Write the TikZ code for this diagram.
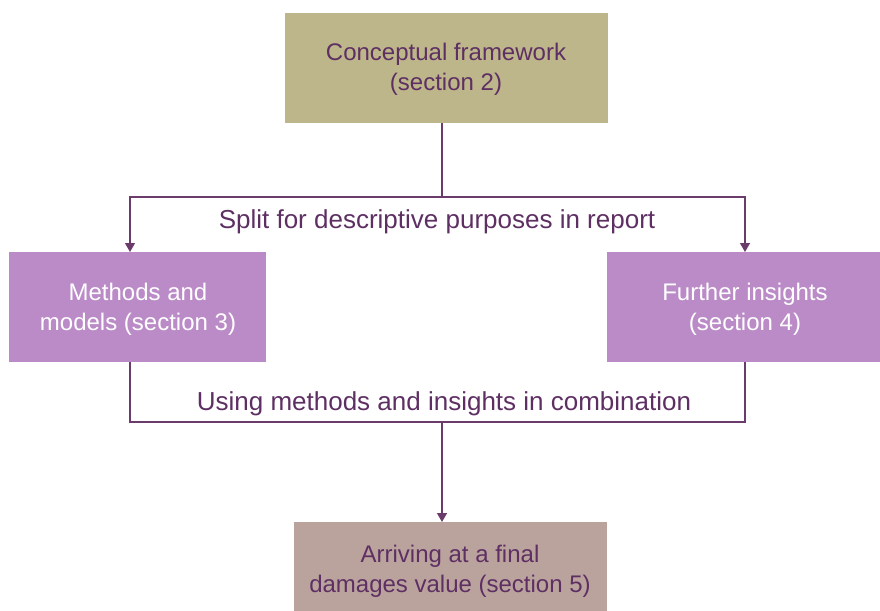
\documentclass[tikz,border=0pt]{standalone}
\usepackage{fontspec}
\setmainfont{Liberation Sans}
\usetikzlibrary{arrows.meta}
\definecolor{olivebox}{HTML}{BDB68A}
\definecolor{lilacbox}{HTML}{BB8BC8}
\definecolor{rosebox}{HTML}{BBA39D}
\definecolor{plumtext}{HTML}{5E2F63}
\definecolor{plumline}{HTML}{6B3B6B}
\begin{document}
\begin{tikzpicture}[x=1pt,y=-1pt,
  box/.style={draw=none,inner sep=0pt,align=center,font=\fontsize{24}{30}\selectfont},
  conn/.style={draw=plumline,line width=1.3pt},
  arr/.style={conn,-{Triangle[length=9pt,width=10pt]}},
  lbl/.style={text=plumtext,font=\fontsize{26}{30}\selectfont,inner sep=0pt}]
\useasboundingbox (0,0) rectangle (880,610);
% boxes
\fill[olivebox] (285,13) rectangle (608,123);
\node[box,text=plumtext] (top) at (446,69) {Conceptual framework\\(section 2)};
\fill[lilacbox] (9,252) rectangle (266,362);
\node[box,text=white] (left) at (138,309) {Methods and\\models (section 3)};
\fill[lilacbox] (607,252) rectangle (880,362);
\node[box,text=white] (right) at (745,309) {Further insights\\(section 4)};
\fill[rosebox] (294,522) rectangle (607,615);
\node[box,text=plumtext] (bot) at (450,571) {Arriving at a final\\damages value (section 5)};
% junction coordinates
\coordinate (ts) at (442,123);
\coordinate (tj) at (442,197);
\coordinate (lj) at (130,197);
\coordinate (rj) at (745,197);
\coordinate (lt) at (130,252);
\coordinate (rt) at (745,252);
\coordinate (lb) at (130,362);
\coordinate (rb) at (745,362);
\coordinate (lk) at (130,422);
\coordinate (rk) at (745,422);
\coordinate (mk) at (442,422);
\coordinate (bt) at (442,522);
\draw[conn] (ts) -- (tj);
\draw[arr] (tj) -- (lj) -- (lt);
\draw[arr] (tj) -- (rj) -- (rt);
\draw[conn] (lb) -- (lk) -- (rk) -- (rb);
\draw[arr] (mk) -- (bt);
\node[lbl] (split) at (437,222) {Split for descriptive purposes in report};
\node[lbl] (using) at (444,404) {Using methods and insights in combination};
\end{tikzpicture}
\end{document}
